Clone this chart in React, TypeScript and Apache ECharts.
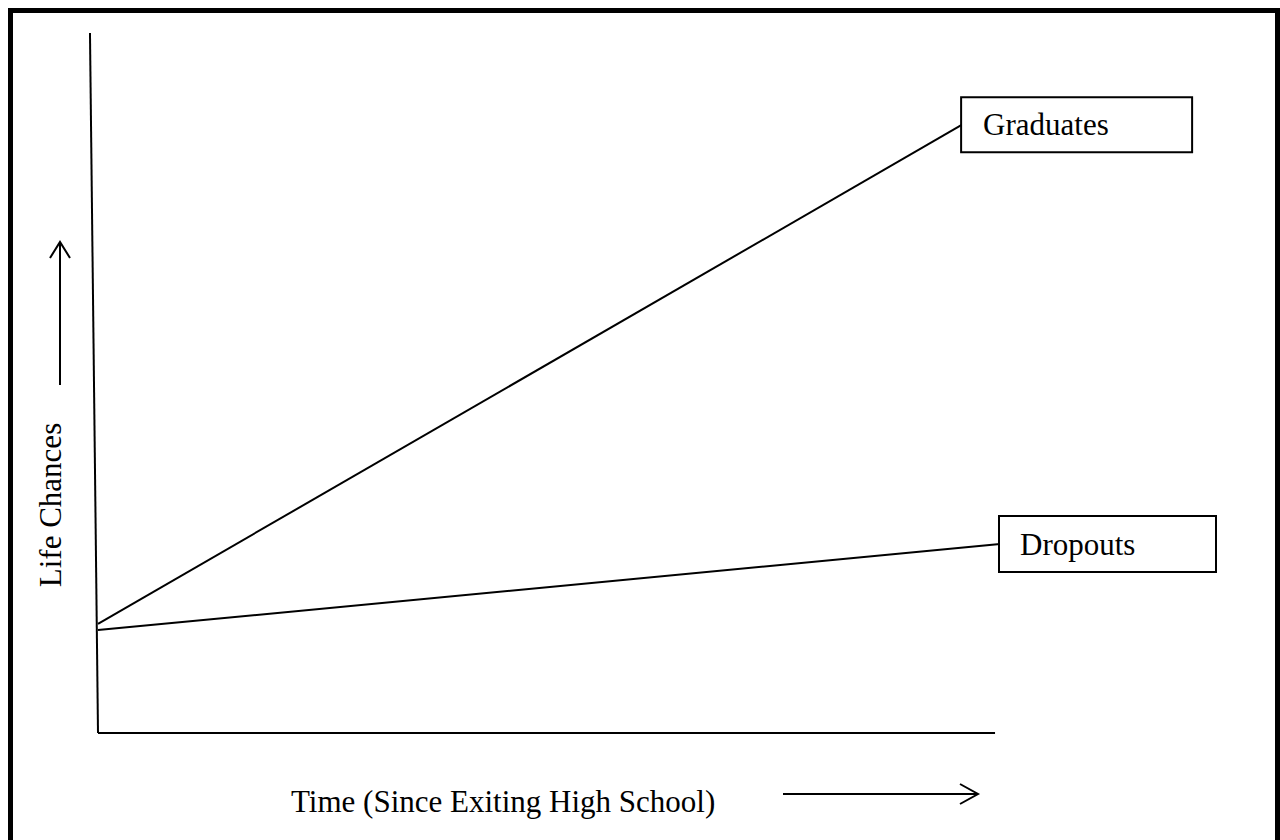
import React, { useEffect, useRef } from "react";
import * as echarts from "echarts";

// Data (data coordinates: x = time 0..100, y = life chances 0..100)
const seriesNames = ["Graduates", "Dropouts"];
const graduates = [
  [0, 15.6],
  [95.8, 86.9],
];
const dropouts = [
  [0, 14.7],
  [100, 27.0],
];
// axis lines as in the reference: [xStart, yStart, xEnd, yEnd]
const yAxisLineData = [[-0.89, 100, 0, 0]];
const xAxisLineData = [[0, 0, 99.45, 0]];
const xAxisTitle = "Time (Since Exiting High School)";
const yAxisTitle = "Life Chances";

const FONT = "'Liberation Serif', 'Times New Roman', serif";

export default function App() {
  const ref = useRef<HTMLDivElement>(null);
  useEffect(() => {
    document.body.style.margin = "0";
    const chart = echarts.init(ref.current!, null, { renderer: "svg" });
    const endLabel = (padLeft: number, w: number, h: number) => ({
      show: true,
      distance: 0,
      formatter: "{a}",
      color: "#000",
      fontFamily: FONT,
      fontSize: 31,
      backgroundColor: "#fff",
      borderColor: "#000",
      borderWidth: 2,
      padding: [0, 0, 0, padLeft],
      width: w - padLeft,
      height: h,
      lineHeight: h,
      align: "left",
      verticalAlign: "middle",
    });
    const mkLine = (name: string, data: number[][], lbl: any) => ({
      name,
      type: "line",
      symbol: "none",
      clip: false,
      silent: true,
      lineStyle: { color: "#000", width: 2 },
      endLabel: lbl,
      data,
      z: 3,
    });
    const axisSeries = (name: string, data: number[][]) => ({
      name,
      type: "custom",
      silent: true,
      clip: false,
      encode: { x: [0, 2], y: [1, 3] },
      data,
      renderItem: (params: any, api: any) => {
        const p1 = api.coord([api.value(0), api.value(1)]);
        const p2 = api.coord([api.value(2), api.value(3)]);
        return {
          type: "line",
          shape: { x1: p1[0], y1: p1[1], x2: p2[0], y2: p2[1] },
          style: { stroke: "#000", lineWidth: 2 },
        };
      },
      z: 2,
    });
    chart.setOption({
      animation: false,
      backgroundColor: "#fff",
      grid: { left: 98, top: 33, width: 902, height: 700 },
      xAxis: {
        type: "value",
        min: 0,
        max: 100,
        axisLine: { show: false },
        axisTick: { show: false },
        axisLabel: { show: false },
        splitLine: { show: false },
      },
      yAxis: {
        type: "value",
        min: 0,
        max: 100,
        axisLine: { show: false },
        axisTick: { show: false },
        axisLabel: { show: false },
        splitLine: { show: false },
      },
      series: [
        axisSeries("yAxisLine", yAxisLineData),
        axisSeries("xAxisLine", xAxisLineData),
        mkLine(seriesNames[0], graduates, endLabel(21, 229, 53)),
        mkLine(seriesNames[1], dropouts, endLabel(20, 215, 54)),
      ],
      graphic: [
        {
          type: "rect",
          shape: { x: 10.5, y: 10.5, width: 1267, height: 900 },
          style: { fill: "none", stroke: "#000", lineWidth: 5 },
          silent: true,
        },
        {
          type: "text",
          x: 291,
          y: 801,
          style: {
            text: xAxisTitle,
            font: `31px ${FONT}`,
            fill: "#000",
            align: "left",
            verticalAlign: "middle",
          },
        },
        {
          type: "line",
          shape: { x1: 783, y1: 794, x2: 977, y2: 794 },
          style: { stroke: "#000", lineWidth: 2 },
        },
        {
          type: "polyline",
          shape: { points: [[960, 784], [978, 794], [960, 804]] },
          style: { stroke: "#000", lineWidth: 2, fill: "none" },
        },
        {
          type: "text",
          x: 50,
          y: 505,
          rotation: Math.PI / 2,
          style: {
            text: yAxisTitle,
            font: `31px ${FONT}`,
            fill: "#000",
            align: "center",
            verticalAlign: "middle",
          },
        },
        {
          type: "line",
          shape: { x1: 60, y1: 385, x2: 60, y2: 243 },
          style: { stroke: "#000", lineWidth: 2 },
        },
        {
          type: "polyline",
          shape: { points: [[50, 258], [60, 242], [70, 258]] },
          style: { stroke: "#000", lineWidth: 2, fill: "none" },
        },
      ],
    });
    return () => chart.dispose();
  }, []);
  return <div ref={ref} style={{ width: 1280, height: 840 }} />;
}
